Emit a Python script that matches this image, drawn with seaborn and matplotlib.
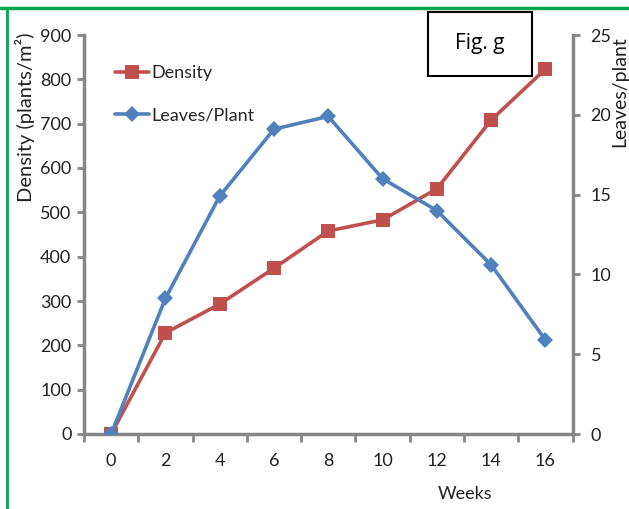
import pandas as pd
import numpy as np
import matplotlib
matplotlib.use('Agg')
import matplotlib.pyplot as plt
import seaborn as sns
from matplotlib.lines import Line2D
from matplotlib.patches import Rectangle

# --- data ---
weeks = [0, 2, 4, 6, 8, 10, 12, 14, 16]
density = [0, 228, 293, 374, 458, 483, 553, 708, 823]
leaves = [0, 8.5, 14.9, 19.1, 19.9, 16.0, 14.0, 10.6, 5.9]
week_ticks = [0, 2, 4, 6, 8, 10, 12, 14, 16]
density_ticks = [0, 100, 200, 300, 400, 500, 600, 700, 800, 900]
leaves_ticks = [0, 5, 10, 15, 20, 25]

df = pd.DataFrame({'Weeks': weeks, 'Density': density, 'Leaves': leaves})

sns.set_theme(style='white')
plt.rcParams['font.family'] = ['Lato', 'DejaVu Sans']

RED = '#C0504D'
BLUE = '#4F81BD'
GREY = '#868686'

fig = plt.figure(figsize=(6.29, 5.09), dpi=100)
ax = fig.add_axes([84 / 629, 1 - 434 / 509, (572.5 - 84) / 629, (434 - 35) / 509])
ax2 = ax.twinx()

sns.lineplot(data=df, x='Weeks', y='Density', ax=ax, color=RED, lw=2.6,
             marker='s', markersize=10, markeredgewidth=0)
sns.lineplot(data=df, x='Weeks', y='Leaves', ax=ax2, color=BLUE, lw=2.6,
             marker='D', markersize=8.5, markeredgewidth=0)

ax.set_xlim(-1, 17)
ax.set_ylim(0, 900)
ax2.set_ylim(0, 25)
ax.set_yticks(density_ticks)
ax2.set_yticks(leaves_ticks)
# category-style axis: tick marks between weeks, labels on the weeks
ax.set_xticks(np.arange(-1, 18, 2))
ax.set_xticklabels([])
ax.set_xticks(week_ticks, minor=True)
ax.set_xticklabels([str(w) for w in week_ticks], minor=True)

for a in (ax, ax2):
    for s in a.spines.values():
        s.set_visible(False)
    a.set_xlabel('')
    a.set_ylabel('')
ax.spines['left'].set_visible(True)
ax.spines['bottom'].set_visible(True)
ax2.spines['right'].set_visible(True)
for s in (ax.spines['left'], ax.spines['bottom'], ax2.spines['right']):
    s.set_color(GREY)
    s.set_linewidth(2.5)

ax.tick_params(axis='y', which='major', direction='out', length=5, width=2, color=GREY,
               left=True, labelsize=13, pad=4, labelcolor='#222222')
ax.tick_params(axis='x', which='major', direction='out', length=6, width=2, color=GREY,
               bottom=True)
ax.tick_params(axis='x', which='minor', length=0, labelsize=13, pad=14, labelcolor='#222222')
ax2.tick_params(axis='y', direction='out', length=5, width=2, color=GREY, right=True,
                labelsize=13, pad=8, labelcolor='#222222')
ax.grid(False)
ax2.grid(False)
ax.patch.set_visible(False)

# axis titles
fig.text(25 / 629, 1 - 117 / 509, 'Density (plants/m²)', rotation=90, ha='center',
         va='center', fontsize=14.5, color='#222222')
fig.text(620 / 629, 1 - 92 / 509, 'Leaves/plant', rotation=90, ha='center',
         va='center', fontsize=14, color='#222222')
fig.text(465 / 629, 1 - 494 / 509, 'Weeks', ha='center', va='center',
         fontsize=13, color='#222222')

# legend
handles = [Line2D([], [], color=RED, lw=2.6, marker='s', markersize=10, markeredgewidth=0),
           Line2D([], [], color=BLUE, lw=2.6, marker='D', markersize=8.5, markeredgewidth=0)]
ax.legend(handles, ['Density', 'Leaves/Plant'], loc='upper left',
          bbox_to_anchor=(0.03, 0.965), frameon=False, fontsize=13,
          handlelength=1.9, handletextpad=0.1, labelspacing=1.45)

# "Fig. g" box
fig.patches.append(Rectangle((428 / 629, 1 - 76 / 509), 104 / 629, 64 / 509,
                             transform=fig.transFigure, fill=True, facecolor='white',
                             edgecolor='black', lw=1.5, zorder=5))
fig.text(480 / 629, 1 - 43 / 509, 'Fig. g', ha='center', va='center', fontsize=15,
         color='black', zorder=6, family=['Open Sans', 'DejaVu Sans'])

# green page border
fig.add_artist(Line2D([0, 1], [1 - 8 / 509, 1 - 8 / 509], transform=fig.transFigure,
                      color='#00A550', lw=2.5))
fig.add_artist(Line2D([7 / 629, 7 / 629], [0, 1 - 8 / 509], transform=fig.transFigure,
                      color='#00A550', lw=2))

fig.savefig('out.png', dpi=100)
